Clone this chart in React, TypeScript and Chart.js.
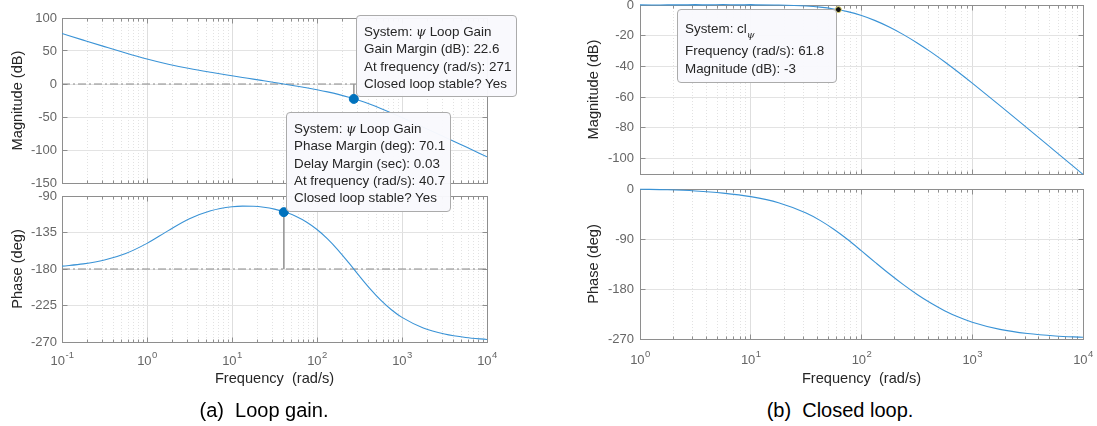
import React, { useEffect, useRef } from 'react';
import { Chart, registerables } from 'chart.js';

Chart.register(...registerables);

const FONT = '"Liberation Sans", Arial, Helvetica, sans-serif';
const TICK_COLOR = '#666666';
const TITLE_COLOR = '#262626';
const FRAME_COLOR = '#8e8e8e';
const CURVE_COLOR = '#3a93d6';
const REF_COLOR = '#8a8a8a';

// ---------- (a) Loop gain ----------
const loopFreq = [0.1, 0.178, 0.316, 0.562, 1, 1.78, 3.16, 5.62, 10, 13.3, 17.8, 23.7, 31.6, 42.2, 56.2, 75, 100, 133, 178, 237, 316, 422, 562, 750, 1000, 1780, 3160, 5620, 10000];
const loopMagDb = [76.48, 66.49, 56.63, 46.96, 37.89, 29.96, 23.36, 17.71, 12.48, 9.94, 7.38, 4.83, 2.26, -0.33, -3.0, -5.76, -8.72, -11.96, -15.71, -20.03, -25.05, -30.76, -37.06, -43.81, -50.86, -65.45, -80.3, -95.26, -110.24];
const loopPhaseDeg = [-176.46, -173.72, -168.96, -160.88, -148.41, -132.7, -118.19, -108.26, -103.3, -102.46, -102.63, -103.82, -106.16, -109.81, -114.98, -122.05, -131.3, -142.8, -156.9, -172.53, -188.85, -204.55, -218.5, -230.26, -239.65, -252.67, -260.19, -264.48, -266.89];

const gmFreq = 271;
const gmMagDb = -22.6;
const gmMarginDb = 22.6;
const pmFreq = 40.7;
const pmPhaseDeg = -109.9;
const pmMarginDeg = 70.1;
const delayMarginSec = 0.03;

const loopMagTicks = [100, 50, 0, -50, -100, -150];
const loopPhaseTicks = [-90, -135, -180, -225, -270];
const loopDecades = [-1, 4];

// ---------- (b) Closed loop ----------
const clFreq = [1, 1.78, 3.16, 5.62, 10, 17.8, 31.6, 42.2, 56.2, 75, 100, 133, 178, 237, 316, 422, 562, 750, 1000, 1780, 3160, 5620, 10000];
const clMagDb = [0.1, 0.19, 0.27, 0.29, 0.24, 0.02, -0.66, -1.38, -2.56, -4.33, -6.86, -10.17, -14.31, -19.13, -24.55, -30.53, -36.96, -43.77, -50.85, -65.45, -80.3, -95.26, -110.24];
const clPhaseDeg = [-0.4, -1.4, -3.5, -7.4, -13.8, -24.7, -43.3, -56.5, -72.5, -91.0, -111.4, -132.0, -152.6, -171.7, -189.4, -205.3, -219.0, -230.5, -239.8, -252.7, -260.2, -264.5, -266.9];

const bwFreq = 61.8;
const bwMagDb = -3;

const clMagTicks = [0, -20, -40, -60, -80, -100];
const clPhaseTicks = [0, -90, -180, -270];
const clDecades = [0, 4];

// ---------- helpers ----------
function isMajor(v: number): boolean {
  const l = Math.log10(v);
  return Math.abs(l - Math.round(l)) < 1e-6;
}

function logTicks(d0: number, d1: number): number[] {
  const out: number[] = [];
  for (let d = d0; d < d1; d++) {
    for (let k = 1; k <= 9; k++) out.push(Number((k * Math.pow(10, d)).toPrecision(6)));
  }
  out.push(Math.pow(10, d1));
  return out;
}

function pts(xs: number[], ys: number[]) {
  return xs.map((x, i) => ({ x, y: ys[i] }));
}

const curve = (data: any[]) => ({
  data,
  borderColor: CURVE_COLOR,
  borderWidth: 1.1,
  pointRadius: 0,
  cubicInterpolationMode: 'monotone',
  fill: false,
  clip: { left: 0, top: 2, right: 0, bottom: 2 },
});

const refLine = (data: any[]) => ({
  data,
  borderColor: REF_COLOR,
  borderWidth: 1,
  borderDash: [8, 3, 2, 3],
  pointRadius: 0,
  fill: false,
});

const stem = (data: any[]) => ({
  data,
  borderColor: '#9a9a9a',
  borderWidth: 1,
  pointRadius: 0,
  fill: false,
});

const marker = (data: any[], fill: string, border: string, r: number) => ({
  data,
  showLine: false,
  pointRadius: r,
  pointBackgroundColor: fill,
  pointBorderColor: border,
  pointBorderWidth: 1,
  clip: false,
});

const framePlugin = {
  id: 'frame',
  beforeDatasetsDraw(chart: any) {
    const { ctx, chartArea: a, scales } = chart;
    const al = (v: number) => Math.round(v - 0.5) + 0.5;
    ctx.save();
    ctx.strokeStyle = FRAME_COLOR;
    ctx.lineWidth = 1;
    const L = al(a.left), R = al(a.right), T = al(a.top), B = al(a.bottom);
    ctx.strokeRect(L, T, R - L, B - T);
    ctx.beginPath();
    for (const t of scales.x.ticks) {
      const p = al(scales.x.getPixelForValue(t.value));
      const len = isMajor(t.value) ? 5 : 3;
      ctx.moveTo(p, B); ctx.lineTo(p, B - len);
      ctx.moveTo(p, T); ctx.lineTo(p, T + len);
    }
    for (const t of scales.y.ticks) {
      const p = al(scales.y.getPixelForValue(t.value));
      ctx.moveTo(L, p); ctx.lineTo(L + 5, p);
      ctx.moveTo(R, p); ctx.lineTo(R - 5, p);
    }
    ctx.stroke();
    ctx.restore();
  },
};

// Decade tick labels "10^n" drawn with a raised exponent at each major log tick.
const decadeLabelPlugin = {
  id: 'decadeLabels',
  afterDraw(chart: any, _args: any, opts: any) {
    if (!opts || !opts.show) return;
    const { ctx, chartArea: a, scales } = chart;
    const base = a.bottom + opts.offset;
    ctx.save();
    ctx.fillStyle = TICK_COLOR;
    ctx.textBaseline = 'alphabetic';
    ctx.textAlign = 'left';
    for (const t of scales.x.ticks) {
      if (!isMajor(t.value)) continue;
      const p = scales.x.getPixelForValue(t.value);
      const exp = String(Math.round(Math.log10(t.value)));
      ctx.font = `13px ${FONT}`;
      const w1 = ctx.measureText('10').width;
      ctx.font = `9.5px ${FONT}`;
      const w2 = ctx.measureText(exp).width;
      const start = p - (w1 + w2) / 2;
      ctx.font = `13px ${FONT}`;
      ctx.fillText('10', start, base);
      ctx.font = `9.5px ${FONT}`;
      ctx.fillText(exp, start + w1 + 0.5, base - 7);
    }
    ctx.restore();
  },
};

type Area = { l: number; t: number; r: number; b: number };
interface PanelSpec {
  w: number;
  h: number;
  area: Area;
  decades: number[];
  yMin: number;
  yMax: number;
  yTicks: number[];
  yTitle: string;
  yTitlePad: number;
  yTickPad: number;
  xTitle?: string;
  xLabelOffset?: number;
  datasets: any[];
}

function buildConfig(p: PanelSpec): any {
  const [d0, d1] = p.decades;
  const xTickValues = logTicks(d0, d1);
  const showX = !!p.xTitle;
  return {
    type: 'line',
    data: { datasets: p.datasets },
    options: {
      animation: false,
      responsive: false,
      maintainAspectRatio: false,
      events: [],
      layout: { padding: { left: 0, top: p.area.t, right: p.w - p.area.r, bottom: 0 } },
      plugins: {
        legend: { display: false },
        tooltip: { enabled: false },
        title: { display: false },
        decadeLabels: { show: showX, offset: p.xLabelOffset ?? 23 },
      },
      scales: {
        x: {
          type: 'logarithmic',
          min: Math.pow(10, d0),
          max: Math.pow(10, d1),
          afterBuildTicks: (s: any) => {
            s.ticks = xTickValues.map((v) => ({ value: v }));
          },
          afterFit: (s: any) => {
            s.height = p.h - p.area.b;
            s.paddingLeft = 0;
            s.paddingRight = 0;
          },
          ticks: {
            display: false,
            autoSkip: false,
            maxRotation: 0,
            minRotation: 0,
          },
          grid: {
            drawTicks: false,
            lineWidth: 1,
            color: (ctx: any) => (ctx.tick && isMajor(ctx.tick.value) ? '#dedede' : '#e2e2e2'),
          },
          border: {
            display: false,
            dash: (ctx: any) => (ctx.tick && isMajor(ctx.tick.value) ? [] : [1, 2]),
          },
          title: {
            display: showX,
            text: p.xTitle || '',
            color: TITLE_COLOR,
            font: { family: FONT, size: 14.6 },
            padding: { top: 0, bottom: 8.2 },
          },
        },
        y: {
          type: 'linear',
          min: p.yMin,
          max: p.yMax,
          afterBuildTicks: (s: any) => {
            s.ticks = p.yTicks.map((v) => ({ value: v }));
          },
          afterFit: (s: any) => {
            s.width = p.area.l;
            s.paddingTop = 0;
            s.paddingBottom = 0;
          },
          ticks: {
            autoSkip: false,
            padding: p.yTickPad,
            color: TICK_COLOR,
            font: { family: FONT, size: 13 },
          },
          grid: { drawTicks: false, color: '#e3e3e3', lineWidth: 1 },
          border: { display: false },
          title: {
            display: true,
            text: p.yTitle,
            color: TITLE_COLOR,
            font: { family: FONT, size: 14.6 },
            padding: { top: p.yTitlePad, bottom: 0 },
          },
        },
      },
    },
    plugins: [framePlugin, decadeLabelPlugin],
  };
}

function ChartCanvas({ spec, left, top }: { spec: PanelSpec; left: number; top: number }) {
  const ref = useRef<HTMLCanvasElement | null>(null);
  useEffect(() => {
    if (!ref.current) return;
    const chart = new Chart(ref.current, buildConfig(spec));
    return () => chart.destroy();
  }, []);
  return (
    <canvas
      ref={ref}
      width={spec.w}
      height={spec.h}
      style={{ position: 'absolute', left, top, width: spec.w, height: spec.h }}
    />
  );
}

// ---------- panel specs ----------
const loopX0 = Math.pow(10, loopDecades[0]);
const loopX1 = Math.pow(10, loopDecades[1]);

const specA1: PanelSpec = {
  w: 500, h: 190, area: { l: 62, t: 18, r: 487, b: 183 },
  decades: loopDecades, yMin: -150, yMax: 100, yTicks: loopMagTicks,
  yTitle: 'Magnitude (dB)', yTitlePad: 8.8, yTickPad: 5,
  datasets: [
    marker([{ x: gmFreq, y: gmMagDb }], '#0072BD', '#0072BD', 4.5),
    curve(pts(loopFreq, loopMagDb)),
    stem([{ x: gmFreq, y: 0 }, { x: gmFreq, y: gmMagDb }]),
    refLine([{ x: loopX0, y: 0 }, { x: loopX1, y: 0 }]),
  ],
};

const specA2: PanelSpec = {
  w: 500, h: 210, area: { l: 62, t: 10, r: 487, b: 156 },
  decades: loopDecades, yMin: -270, yMax: -90, yTicks: loopPhaseTicks,
  yTitle: 'Phase (deg)', yTitlePad: 8.8, yTickPad: 5,
  xTitle: 'Frequency  (rad/s)', xLabelOffset: 23,
  datasets: [
    marker([{ x: pmFreq, y: pmPhaseDeg }], '#0072BD', '#0072BD', 4.5),
    curve(pts(loopFreq, loopPhaseDeg)),
    stem([{ x: pmFreq, y: pmPhaseDeg }, { x: pmFreq, y: -180 }]),
    refLine([{ x: loopX0, y: -180 }, { x: loopX1, y: -180 }]),
  ],
};

const specB1: PanelSpec = {
  w: 517, h: 182, area: { l: 60, t: 3, r: 503, b: 174 },
  decades: clDecades, yMin: -110, yMax: 0, yTicks: clMagTicks,
  yTitle: 'Magnitude (dB)', yTitlePad: 5.3, yTickPad: 6,
  datasets: [
    marker([{ x: bwFreq, y: bwMagDb }], '#111111', '#e6d96a', 3),
    curve(pts(clFreq, clMagDb)),
  ],
};

const specB2: PanelSpec = {
  w: 517, h: 214, area: { l: 60, t: 7, r: 503, b: 157 },
  decades: clDecades, yMin: -270, yMax: 0, yTicks: clPhaseTicks,
  yTitle: 'Phase (deg)', yTitlePad: 5.3, yTickPad: 6,
  xTitle: 'Frequency  (rad/s)', xLabelOffset: 25,
  datasets: [curve(pts(clFreq, clPhaseDeg))],
};

const tipStyle: React.CSSProperties = {
  position: 'absolute',
  boxSizing: 'border-box',
  border: '1px solid #ababab',
  borderRadius: 4,
  background: 'rgba(249,249,253,0.97)',
  padding: '7px 0 0 7px',
  fontFamily: FONT,
  fontSize: 13.4,
  lineHeight: '17.3px',
  color: TITLE_COLOR,
  whiteSpace: 'nowrap',
  zIndex: 2,
};

const psi = <span style={{ fontStyle: 'italic', fontFamily: '"DejaVu Serif", serif', fontSize: 12.5 }}>ψ</span>;

const captionStyle: React.CSSProperties = {
  position: 'absolute',
  top: 398,
  width: 240,
  textAlign: 'center',
  fontFamily: FONT,
  fontSize: 20,
  lineHeight: '24px',
  color: '#000',
};

export default function App() {
  return (
    <div style={{ position: 'fixed', left: 0, top: 0, width: 1097, height: 426, background: '#ffffff', overflow: 'hidden' }}>
      <ChartCanvas spec={specA1} left={0} top={0} />
      <ChartCanvas spec={specA2} left={0} top={186} />
      <ChartCanvas spec={specB1} left={580} top={0} />
      <ChartCanvas spec={specB2} left={580} top={182} />

      <div style={{ ...tipStyle, left: 356, top: 15, width: 161, height: 82 }}>
        <div>System: {psi} Loop Gain</div>
        <div>Gain Margin (dB): {gmMarginDb}</div>
        <div>At frequency (rad/s): {gmFreq}</div>
        <div>Closed loop stable? Yes</div>
      </div>

      <div style={{ ...tipStyle, left: 286, top: 112, width: 165, height: 100 }}>
        <div>System: {psi} Loop Gain</div>
        <div>Phase Margin (deg): {pmMarginDeg}</div>
        <div>Delay Margin (sec): {delayMarginSec}</div>
        <div>At frequency (rad/s): {pmFreq}</div>
        <div>Closed loop stable? Yes</div>
      </div>

      <div style={{ ...tipStyle, left: 677, top: 9, width: 160, height: 74, paddingTop: 5 }}>
        <div style={{ height: 27, lineHeight: '27px' }}>
          System: cl
          <sub style={{ fontSize: 10, fontStyle: 'italic', fontFamily: '"DejaVu Serif", serif', verticalAlign: '-5px', lineHeight: 0 }}>ψ</sub>
        </div>
        <div style={{ height: 18, lineHeight: '18px' }}>Frequency (rad/s): {bwFreq}</div>
        <div style={{ height: 18, lineHeight: '18px' }}>Magnitude (dB): {bwMagDb}</div>
      </div>

      <div style={{ ...captionStyle, left: 144 }}>(a)&nbsp; Loop gain.</div>
      <div style={{ ...captionStyle, left: 720 }}>(b)&nbsp; Closed loop.</div>
    </div>
  );
}
